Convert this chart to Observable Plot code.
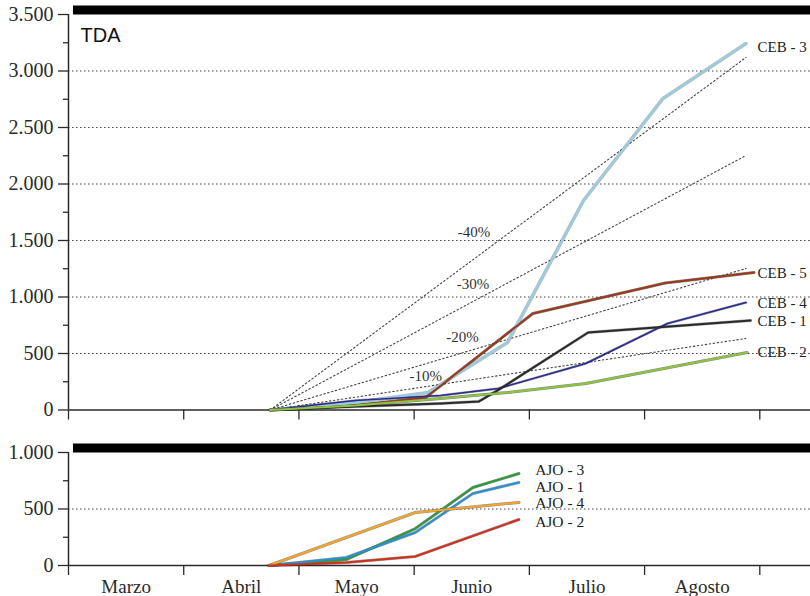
<!DOCTYPE html>
<html><head><meta charset="utf-8">
<script src="https://cdn.jsdelivr.net/npm/d3@7"></script>
<script src="https://cdn.jsdelivr.net/npm/@observablehq/plot@0.6"></script>
<style>body{margin:0;background:#fff}svg{display:block}</style>
</head><body><div id="c"></div>
<script>
// x = months since 1 March (0 = Marzo, 1 = Abril, ...)
const months = ["Marzo","Abril","Mayo","Junio","Julio","Agosto"];
const xMax = 6.44;

// Top panel (TDA) series
const ceb3X = [1.75, 2.49, 3.12, 3.81, 4.47, 5.16, 5.88];
const ceb3Y = [0, 65, 155, 597, 1854, 2757, 3243];
const ceb5X = [1.75, 2.49, 3.10, 4.03, 5.18, 5.95];
const ceb5Y = [0, 40, 111, 854, 1124, 1217];
const ceb4X = [1.75, 2.49, 3.23, 3.73, 4.49, 5.20, 5.88];
const ceb4Y = [0, 84, 128, 190, 412, 766, 951];
const ceb1X = [1.75, 2.49, 3.23, 3.56, 3.75, 4.51, 5.92];
const ceb1Y = [0, 30, 58, 75, 190, 686, 792];
const ceb2X = [1.75, 2.49, 3.23, 3.81, 4.49, 5.89];
const ceb2Y = [0, 40, 102, 155, 235, 509];
const cebNames = ["CEB - 3","CEB - 5","CEB - 4","CEB - 1","CEB - 2"];
const cebColors = ["#9ccbde","#9a3a1c","#2c2c90","#2a2a2a","#8cc63f"];
const cebLabelY = [3210, 1208, 942, 783, 509];

// reference lines (percent)
const refNames = ["-40%","-30%","-20%","-10%"];
const refStartX = 1.75, refEndX = 5.88;
const refEndY = [3120, 2252, 1252, 633];
const refLabelX = [3.52, 3.51, 3.42, 3.10];
const refLabelY = [1571, 1111, 642, 296];

// Bottom panel (AJO) series
const ajo3X = [1.74, 2.41, 3.01, 3.51, 3.91];
const ajo3Y = [0, 53, 327, 690, 814];
const ajo1X = [1.74, 2.41, 3.01, 3.51, 3.91];
const ajo1Y = [0, 71, 292, 637, 735];
const ajo4X = [1.74, 3.01, 3.91];
const ajo4Y = [0, 469, 558];
const ajo2X = [1.74, 2.41, 3.01, 3.91];
const ajo2Y = [0, 27, 80, 407];
const ajoNames = ["AJO - 3","AJO - 1","AJO - 4","AJO - 2"];
const ajoColors = ["#2f9a3c","#2b8fd2","#f4a52a","#d3301c"];
const ajoLabelX = 4.05;
const ajoLabelY = [841, 690, 549, 381];

const fmt = d => String(d).replace(/\B(?=(\d{3})+(?!\d))/g, ".");
const rows = (xs, ys) => xs.map((x, i) => ({x, y: ys[i]}));
const AX = "#2a2a2a";
const FONT = "Liberation Serif, Times New Roman, serif";

const cebData = [[ceb3X,ceb3Y],[ceb5X,ceb5Y],[ceb4X,ceb4Y],[ceb1X,ceb1Y],[ceb2X,ceb2Y]].map(([a,b]) => rows(a,b));
const ajoData = [[ajo3X,ajo3Y],[ajo1X,ajo1Y],[ajo4X,ajo4Y],[ajo2X,ajo2Y]].map(([a,b]) => rows(a,b));

function seriesMarks(data, colors, widths, edgeOpacity) {
  const m = [];
  data.forEach((d, i) => {
    m.push(Plot.line(d, {x: "x", y: "y", stroke: "#222", strokeWidth: widths[i] + 1, strokeOpacity: edgeOpacity[i]}));
  });
  data.forEach((d, i) => {
    m.push(Plot.line(d, {x: "x", y: "y", stroke: colors[i], strokeWidth: widths[i]}));
  });
  return m;
}

const yAxisText = {fontSize: 20, fontFamily: FONT, fontVariant: "normal"};

const topChart = Plot.plot({
  width: 810, height: 430,
  marginLeft: 68, marginRight: 0, marginTop: 14, marginBottom: 20.5,
  x: {domain: [0, xMax]},
  y: {domain: [0, 3500]},
  style: {fontFamily: FONT, background: "#fff", color: AX, overflow: "visible"},
  marks: [
    Plot.ruleY(d3.range(500, 3001, 500), {stroke: "#444", strokeWidth: 1.2, strokeDasharray: "1.5,2.5"}),
    ...refNames.map((n, i) => Plot.line([{x: refStartX, y: 0}, {x: refEndX, y: refEndY[i]}],
      {x: "x", y: "y", stroke: "#444", strokeWidth: 1.1, strokeDasharray: "1.5,2.5"})),
    Plot.text(refNames, {x: (d, i) => refLabelX[i], y: (d, i) => refLabelY[i], text: d => d,
      fontSize: 15, fill: "#333", textAnchor: "middle", stroke: "#fff", strokeWidth: 2}),
    Plot.ruleY([3500], {x1: 0.043, x2: xMax, stroke: "#000", strokeWidth: 9, dy: -4.5}),
    Plot.ruleX([0], {stroke: AX, strokeWidth: 1.5}),
    Plot.ruleY([0], {stroke: AX, strokeWidth: 1.5}),
    Plot.axisY({ticks: d3.range(0, 3501, 500), tickFormat: fmt, tickSize: 10, tickPadding: 5, label: null, strokeWidth: 1.3, ...yAxisText}),
    Plot.axisY({ticks: d3.range(250, 3500, 500), tickFormat: () => "", tickSize: 5, label: null, strokeWidth: 1.3}),
    Plot.axisX({ticks: d3.range(0, 7), tickFormat: () => "", tickSize: 10, label: null, strokeWidth: 1.3}),
    ...seriesMarks(cebData, cebColors, [2.6, 2, 1.6, 2, 2], [0.3, 0.55, 0.4, 0.4, 0.55]),
    Plot.text(cebNames, {x: 5.98, y: (d, i) => cebLabelY[i], text: d => d, fontSize: 15, fill: "#222", textAnchor: "start", lineAnchor: "middle"}),
    Plot.text(["TDA"], {frameAnchor: "top-left", dx: 12, dy: 21, text: d => d, fontSize: 20, fill: "#111", textAnchor: "start", lineAnchor: "middle"})
  ]
});

const bottomChart = Plot.plot({
  width: 810, height: 166,
  marginLeft: 68, marginRight: 0, marginTop: 22, marginBottom: 31,
  x: {domain: [0, xMax]},
  y: {domain: [0, 1000]},
  style: {fontFamily: FONT, background: "#fff", color: AX, overflow: "visible"},
  marks: [
    Plot.ruleY([500], {stroke: "#444", strokeWidth: 1.2, strokeDasharray: "1.5,2.5"}),
    Plot.ruleY([1000], {x1: 0.043, x2: xMax, stroke: "#000", strokeWidth: 9, dy: -4.5}),
    Plot.ruleX([0], {stroke: AX, strokeWidth: 1.5}),
    Plot.ruleY([0], {stroke: AX, strokeWidth: 1.5}),
    Plot.axisY({ticks: [0, 500, 1000], tickFormat: fmt, tickSize: 10, tickPadding: 5, label: null, strokeWidth: 1.3, ...yAxisText}),
    Plot.axisY({ticks: [250, 750], tickFormat: () => "", tickSize: 5, label: null, strokeWidth: 1.3}),
    Plot.axisX({ticks: d3.range(0, 7), tickFormat: () => "", tickSize: 10, label: null, strokeWidth: 1.3}),
    Plot.axisX({ticks: months.map((m, i) => i + 0.5), tickFormat: (d) => months[Math.round(d - 0.5)], tickSize: 0, tickPadding: 13.5, fontSize: 19, fontFamily: FONT, label: null}),
    ...seriesMarks(ajoData, ajoColors, [2, 2, 2, 2], [0.5, 0.4, 0.5, 0.45]),
    Plot.text(ajoNames, {x: ajoLabelX, y: (d, i) => ajoLabelY[i], text: d => d, fontSize: 15.5, fill: "#222", textAnchor: "start", lineAnchor: "middle"})
  ]
});

document.getElementById("c").append(topChart, bottomChart);
// force serif face on every text (inline style wins over Plot's class style), TDA stays sans-serif
document.querySelectorAll("svg text").forEach(t => {
  t.style.fontFamily = t.textContent === "TDA"
    ? "'Liberation Sans', Arial, sans-serif"
    : "'Liberation Serif', 'Times New Roman', serif";
  t.style.fontVariantNumeric = "normal";
});
</script>
</body></html>
